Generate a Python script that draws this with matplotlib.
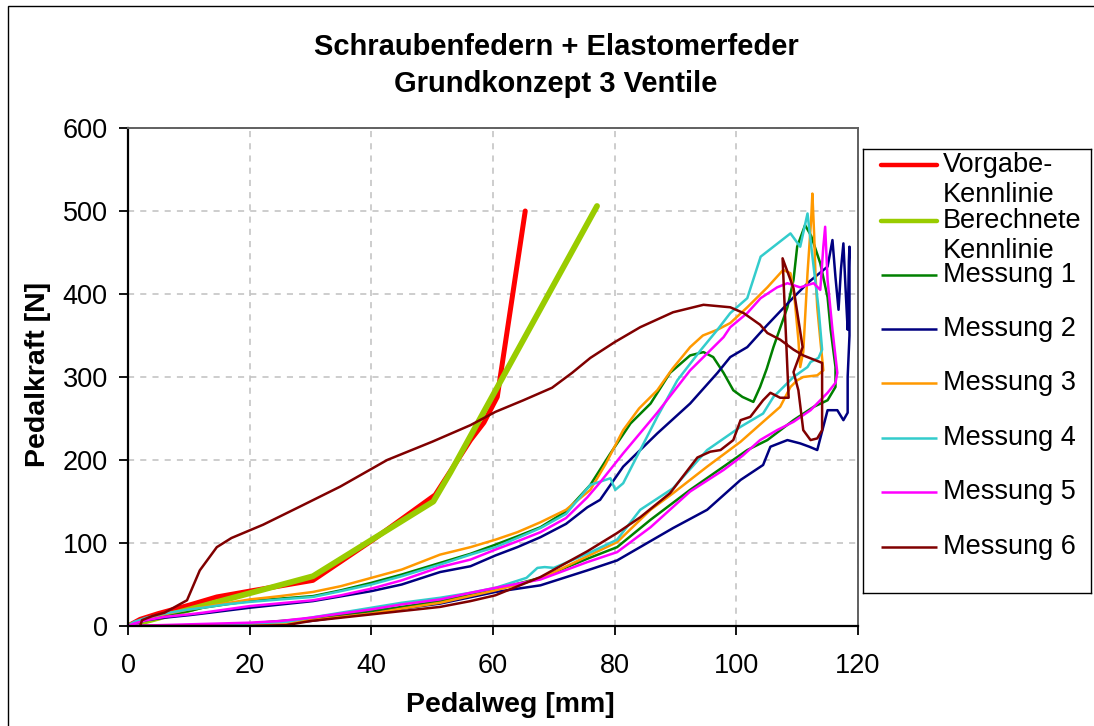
import numpy as np
import matplotlib
matplotlib.use('Agg')
import matplotlib.pyplot as plt
from matplotlib.patches import Rectangle

plt.rcParams['font.family'] = ['Liberation Sans', 'DejaVu Sans']

# --- data (Pedalweg [mm], Pedalkraft [N]) ---
vorgabe_x = [0, 2, 5, 10, 14.6, 20, 30.4, 40.3, 50.5, 56.3, 58.5, 60.7, 65.3]
vorgabe_y = [0, 8, 15, 25, 35, 42, 55, 104, 158, 224, 245, 276, 500]

berechnet_x = [0, 30.4, 50.2, 53, 77.1]
berechnet_y = [0, 60, 150, 185, 506]

m1_x = [0, 1, 3, 6, 10, 12.3, 16, 20, 25, 30.4, 35, 40, 45, 51.3, 56.3, 60.4, 64, 67.8, 72, 76,
        79.3, 82.6, 85.9, 89.1, 92.4, 94.6, 96.2, 97.9, 99.5, 101, 102.8, 103.9, 105, 106.1, 108.4,
        109.4, 110, 111.3, 112.3, 113.8, 115, 115.5, 116.3, 116.3, 115, 112.7, 109.4, 105.1, 101.8,
        97.9, 92.4, 85.9, 80.4, 75.5, 67.8, 60.4, 51.3, 45, 40, 35, 30, 25, 20, 15, 10, 0]
m1_y = [0, 4, 9, 13, 18, 22, 26, 30, 33, 36, 43, 52, 62, 76, 87, 98, 108, 119, 138, 170,
        208, 244, 268, 305, 326, 330, 324, 305, 284, 276, 270, 288, 310, 336, 384,
        417, 457, 483, 470, 437, 396, 357, 312, 288, 272, 264, 248, 224, 212,
        192, 164, 128, 95, 81, 58, 44, 30, 23, 18, 13, 9, 6, 3, 1, 0, 0]

m2_x = [0, 1, 3, 6, 10, 12.3, 20, 30.4, 40, 45, 51.3, 56.3, 60.4, 64, 67.8, 72, 75.5, 77.6, 81.4,
        87, 92.4, 96.9, 99, 101.8, 105, 109.4, 112, 115, 115.8, 116.3, 116.8, 117.2, 117.6, 118,
        118.3, 118.5, 118.6, 118.6, 118.3, 118.3, 117.6, 116.6, 115, 113.3, 112, 110.5, 108.4,
        105.6, 104.4, 100.7, 95.2, 89.6, 80.4, 75.5, 67.8, 60.4, 51.3, 45, 40, 35, 30, 25, 20, 10, 0]
m2_y = [0, 3, 7, 10, 13, 15, 22, 30, 42, 50, 65, 72, 85, 95, 107, 123, 143, 152, 192,
        232, 268, 305, 324, 336, 362, 396, 415, 433, 465, 420, 381, 430, 461, 400,
        357, 440, 457, 350, 300, 257, 248, 260, 260, 212, 216, 220, 224,
        216, 194, 176, 140, 118, 79, 67, 49, 41, 27, 21, 15, 11, 6, 3, 1, 0, 0]

m3_x = [0, 1, 3, 6, 10, 15, 20, 25, 30.4, 35, 40, 45, 51.3, 56.3, 60.4, 64, 67.8, 72, 76, 78.5,
        81.4, 84, 87, 89.5, 92.4, 94.5, 96.9, 99, 101.8, 105.1, 107.7, 108.9, 109.5, 110.2, 110.5,
        111, 111.7, 112.3, 112.5, 112.8, 113, 113.3, 113.8, 114.3, 113.3, 111, 110, 108.9, 107.2,
        104.4, 100.7, 95.2, 89.6, 85.9, 80.4, 75.5, 67.8, 60.4, 51.3, 45, 40, 35, 30, 25, 20, 10, 0]
m3_y = [0, 4, 9, 14, 20, 26, 32, 36, 41, 48, 58, 68, 86, 95, 104, 113, 125, 140, 164, 195,
        236, 262, 284, 310, 336, 350, 357, 365, 384, 408, 429, 425, 400, 345, 312,
        330, 425, 490, 521, 470, 425, 384, 345, 308, 302, 300, 296, 288, 264,
        246, 222, 192, 160, 140, 101, 84, 57, 43, 28, 21, 15, 11, 7, 3, 1, 0, 0]

m4_x = [0, 1, 3, 6, 10, 12.3, 16, 20, 25, 30.4, 35, 40, 45, 51.3, 56.3, 60.4, 64, 67.8, 72, 76,
        79.3, 80.1, 81.4, 84.2, 87, 90.3, 94.1, 96.9, 99, 101.8, 104, 106.1, 108.9, 110.5, 111.7,
        112.7, 113.5, 114.1, 113.5, 112.2, 111.7, 109.4, 106.1, 104.4, 100.7, 95.2, 89.6, 84.2,
        80.4, 75.5, 70, 68.5, 67.3, 65.5, 60.4, 56.3, 51.3, 45, 40, 35, 30, 26, 20, 10, 0]
m4_y = [0, 5, 10, 15, 20, 22, 26, 29, 32, 35, 42, 50, 60, 74, 86, 95, 106, 118, 135, 170,
        178, 164, 172, 212, 252, 296, 332, 357, 377, 395, 445, 457, 473, 457, 497,
        433, 384, 333, 323, 318, 312, 300, 276, 256, 240, 212, 166, 140,
        104, 87, 70, 71, 70, 58, 46, 40, 34, 28, 22, 16, 10, 5, 3, 1, 0]

m5_x = [0, 1, 3, 6, 10, 12.3, 20, 30.4, 35, 40, 45, 51.3, 56.3, 60.4, 64, 67.8, 72, 75.5, 77.6,
        81.4, 87, 92.4, 97.9, 99, 101.8, 104, 106.7, 108.4, 110.5, 112.7, 113.8, 114.3, 114.6, 115,
        115.8, 116.6, 116.3, 115, 112.2, 109.4, 106.7, 103.9, 101, 97.9, 92.4, 85.9, 80.4, 75.5,
        67.8, 60.4, 56.3, 51.3, 45, 40, 35, 30, 25, 20, 10, 0]
m5_y = [0, 3, 7, 11, 14, 16, 24, 31, 37, 45, 55, 71, 80, 92, 102, 113, 130, 155, 173,
        208, 257, 308, 348, 360, 377, 395, 408, 413, 408, 413, 405, 457, 481, 417,
        357, 305, 293, 281, 260, 246, 236, 224, 205, 188, 162, 119, 89, 77,
        56, 46, 40, 32, 26, 20, 15, 10, 6, 4, 2, 0]

m6_x = [2, 2.3, 4, 6, 9.7, 11.8, 14.6, 17, 22.2, 28.3, 34.9, 42.6, 50, 56.3, 60.4, 65, 69.7, 73,
        76, 80, 84.2, 89.6, 94.6, 99, 101.2, 103.9, 105.1, 107.2, 109.4, 111, 114.1, 114.1, 113.3,
        112.2, 111, 110.2, 109.4, 110.9, 109.4, 107.6, 108.6, 107.2, 105.6, 104.4, 102.3, 100.7,
        99.5, 97.4, 95.7, 93.6, 89.1, 84.2, 80.4, 75.5, 67.8, 60.4, 56.3, 51.3, 45, 40, 35, 30,
        26, 20, 10, 2]
m6_y = [0, 7, 12, 16, 31, 67, 95, 106, 122, 144, 168, 200, 222, 242, 258, 272, 287, 305,
        323, 342, 360, 378, 387, 384, 377, 363, 353, 345, 333, 326, 317, 236, 226,
        224, 236, 284, 306, 336, 407, 443, 275, 275, 281, 272, 252, 248,
        224, 212, 210, 203, 160, 131, 112, 90, 59, 37, 30, 23, 18, 14, 10, 6,
        1, 0, 0, 0]

labels = ['Vorgabe-\nKennlinie', 'Berechnete\nKennlinie', 'Messung 1', 'Messung 2',
          'Messung 3', 'Messung 4', 'Messung 5', 'Messung 6']
colors = ['#FF0000', '#99CC00', '#008000', '#000080', '#FF9900', '#33CCCC', '#FF00FF', '#800000']
widths = [3.6, 4.2, 1.8, 1.8, 1.8, 1.8, 1.8, 1.8]

series = [(vorgabe_x, vorgabe_y), (berechnet_x, berechnet_y), (m1_x, m1_y), (m2_x, m2_y),
          (m3_x, m3_y), (m4_x, m4_y), (m5_x, m5_y), (m6_x, m6_y)]

W, H = 1094, 726
fig = plt.figure(figsize=(W / 100, H / 100), dpi=100)
ax = fig.add_axes([128 / W, (H - 626) / H, 730 / W, 498 / H])

for (xs, ys), c, lw in zip(series, colors, widths):
    ax.plot(xs, ys, color=c, lw=lw, solid_capstyle='round' if lw > 3 else 'butt')

ax.set_xlim(0, 120)
ax.set_ylim(0, 600)
ax.set_xticks(np.arange(0, 121, 20))
ax.set_yticks(np.arange(0, 601, 100))
ax.grid(True, color='#c0c0c0', linestyle=(0, (4, 4)), lw=1.1)
ax.set_axisbelow(True)
ax.tick_params(axis='both', direction='out', length=6.5, width=1.3, labelsize=19.5)
ax.tick_params(axis='x', pad=13)
ax.tick_params(axis='y', pad=8)
for s in ['left', 'bottom']:
    ax.spines[s].set_linewidth(1.6)
for s in ['top', 'right']:
    ax.spines[s].set_color('#606060')
    ax.spines[s].set_linewidth(1.4)

fig.text(556 / W, 1 - 47 / H, 'Schraubenfedern + Elastomerfeder', ha='center', va='center',
         fontsize=21, fontweight='bold')
fig.text(556 / W, 1 - 84 / H, 'Grundkonzept 3 Ventile', ha='center', va='center',
         fontsize=21, fontweight='bold')
fig.text(510 / W, 1 - 705 / H, 'Pedalweg [mm]', ha='center', va='center',
         fontsize=20.5, fontweight='bold')
fig.text(38 / W, 1 - 374 / H, 'Pedalkraft [N]', ha='center', va='center', rotation=90,
         fontsize=20.5, fontweight='bold')

# legend drawn in its own pixel-coordinate axes
lax = fig.add_axes([863 / W, (H - 593) / H, 228 / W, 444 / H])
lax.set_xlim(863, 1091)
lax.set_ylim(593, 149)
lax.set_xticks([])
lax.set_yticks([])
for s in lax.spines.values():
    s.set_linewidth(1.0)
leg_y = [165, 221, 275, 329, 383, 438, 492, 547]
for lab, c, lw, y in zip(labels, colors, widths, leg_y):
    lax.plot([881, 937], [y, y], color=c, lw=min(lw, 3.2), solid_capstyle='round' if lw > 3 else 'butt')
    if '\n' in lab:
        first, second = lab.split('\n')
        lax.text(943, y, first, va='center', ha='left', fontsize=19.5)
        lax.text(943, y + 30, second, va='center', ha='left', fontsize=19.5)
    else:
        lax.text(943, y, lab, va='center', ha='left', fontsize=19.5)

fig.add_artist(Rectangle((8 / W, -0.1), 1.0, 1.1 - 6 / H, transform=fig.transFigure,
                         fill=False, edgecolor='black', lw=1.0))

fig.savefig('out.png', dpi=100)
